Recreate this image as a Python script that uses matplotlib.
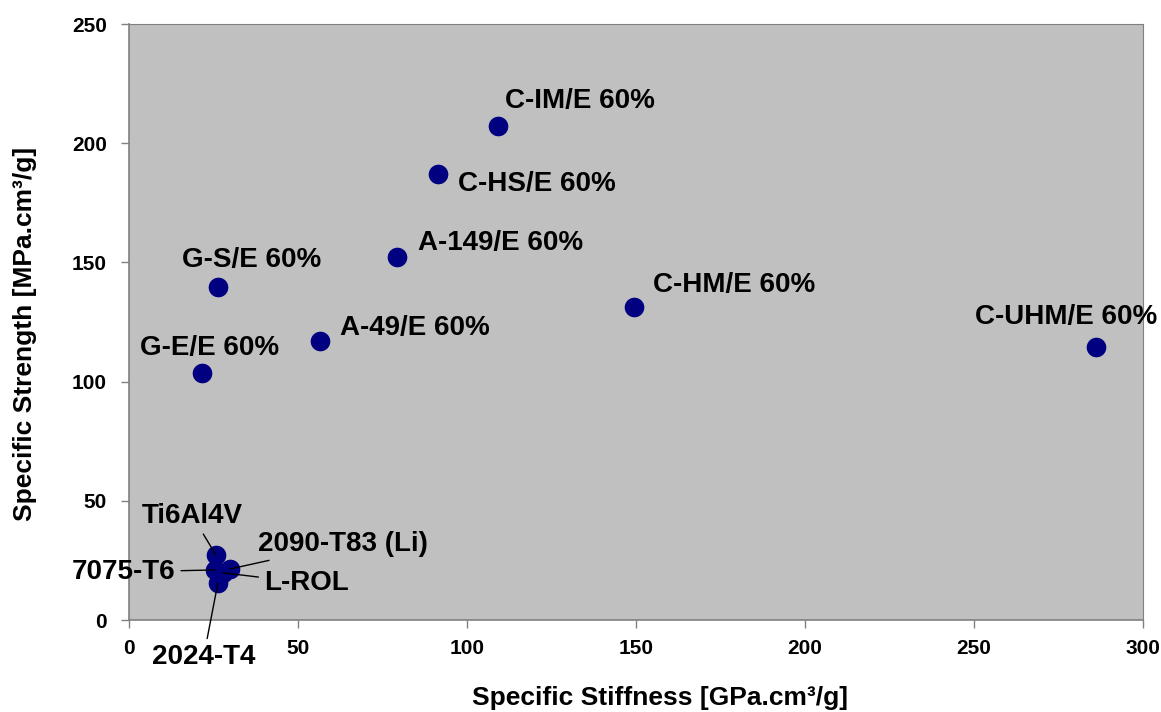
import matplotlib
matplotlib.use("Agg")
import matplotlib.pyplot as plt

# ---------------------------------------------------------------- data
materials = ["C-IM/E 60%", "C-HS/E 60%", "A-149/E 60%", "G-S/E 60%",
             "C-HM/E 60%", "C-UHM/E 60%", "A-49/E 60%", "G-E/E 60%",
             "Ti6Al4V", "2090-T83 (Li)", "7075-T6", "L-ROL", "2024-T4"]
stiffness = [109.2, 91.4, 79.3, 26.3, 149.4, 286.1, 56.5, 21.6,
             25.7, 29.9, 25.4, 27.8, 26.3]
strength = [207.2, 187.0, 152.3, 139.7, 131.3, 114.5, 117.0, 103.6,
            27.3, 21.4, 21.0, 19.8, 15.5]

x_ticks = [0, 50, 100, 150, 200, 250, 300]
y_ticks = [0, 50, 100, 150, 200, 250]

# label placement (pixel offsets from the point: dx, dy, leader line)
label_pos = [
    (7, 25, False),
    (20, -10, False),
    (21, 14, False),
    (-36, 27, False),
    (19, 22, False),
    (-121, 30, False),
    (20, 13, False),
    (-62, 25, False),
    (-74, 39, True),
    (28, 25, True),
    (-143, -2, True),
    (41, -10, True),
    (-66, -74, True),
]

FONT = "Liberation Sans"
W, H = 1161, 712

fig = plt.figure(figsize=(W / 100, H / 100), dpi=100)
ax = fig.add_axes([129 / W, 1 - 620 / H, (1143 - 129) / W, (620 - 24) / H])
ax.set_facecolor("#c0c0c0")

ax.scatter(stiffness, strength, s=200, color="#000080", zorder=3, linewidths=0)

for name, x, y, (dx, dy, lead) in zip(materials, stiffness, strength, label_pos):
    kw = {}
    if lead:
        kw["arrowprops"] = dict(arrowstyle="-", color="black", lw=1.0,
                                shrinkA=2, shrinkB=0)
    ax.annotate(name, (x, y), xytext=(dx, dy), textcoords="offset pixels",
                ha="left", va="center", fontsize=20, fontweight="bold",
                family=FONT, zorder=4, annotation_clip=False, **kw)

ax.set_xlim(0, 300)
ax.set_ylim(0, 250)
ax.set_xticks(x_ticks)
ax.set_yticks(y_ticks)
for lab in ax.get_xticklabels() + ax.get_yticklabels():
    lab.set_family(FONT)
    lab.set_fontweight("bold")
    lab.set_fontsize(15)
ax.tick_params(axis="both", direction="out", length=6, width=1, color="#808080")
ax.tick_params(axis="x", pad=8)
ax.tick_params(axis="y", pad=10)

for side in ["top", "right"]:
    ax.spines[side].set_color("#808080")
    ax.spines[side].set_linewidth(0.8)
for side in ["left", "bottom"]:
    ax.spines[side].set_color("#808080")
    ax.spines[side].set_linewidth(1.2)

# axis titles sit off-centre in the original, so place them on the figure
fig.text(660 / W, 1 - 698 / H, "Specific Stiffness [GPa.cm³/g]", family=FONT,
         fontweight="bold", fontsize=19, ha="center", va="center")
fig.text(25 / W, 1 - 334 / H, "Specific Strength [MPa.cm³/g]", family=FONT,
         fontweight="bold", fontsize=19, ha="center", va="center", rotation=90)

fig.savefig("out.png", dpi=100)
